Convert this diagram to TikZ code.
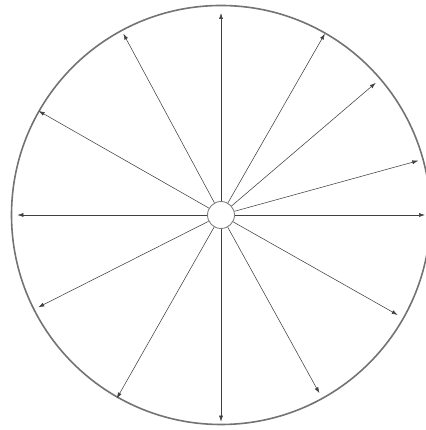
\documentclass[tikz,border=0pt]{standalone}
\usepackage{tikz}
\usetikzlibrary{arrows.meta,calc}
\tikzset{
  rim/.style={draw=black!55,line width=1.6pt},
  hubc/.style={circle,draw=black!50,line width=0.9pt,fill=white,minimum size=27pt,inner sep=0pt},
  spoke/.style={draw=black!75,line width=0.55pt,-{Latex[length=6pt,width=4pt]}},
}
\begin{document}
\begin{tikzpicture}[x=1pt,y=1pt]
  \useasboundingbox (0,0) rectangle (425,430);
  \node[hubc] (hub) at (221,215){};
  \draw[rim] (hub.center) circle (209.5);
  \foreach \ang/\len [count=\i] in {90/202,118.3/206,60.2/209,40.5/203.5,15.4/204.6,0/204,
      -29.5/203,-61.1/203.6,-90/206.7,240.4/211,206.8/204.7,180/203.7,150.3/210}{
    \coordinate (t\i) at ($(hub.center)+(\ang:\len)$);
    \draw[spoke] (hub) -- (t\i);
  }
\end{tikzpicture}
\end{document}
